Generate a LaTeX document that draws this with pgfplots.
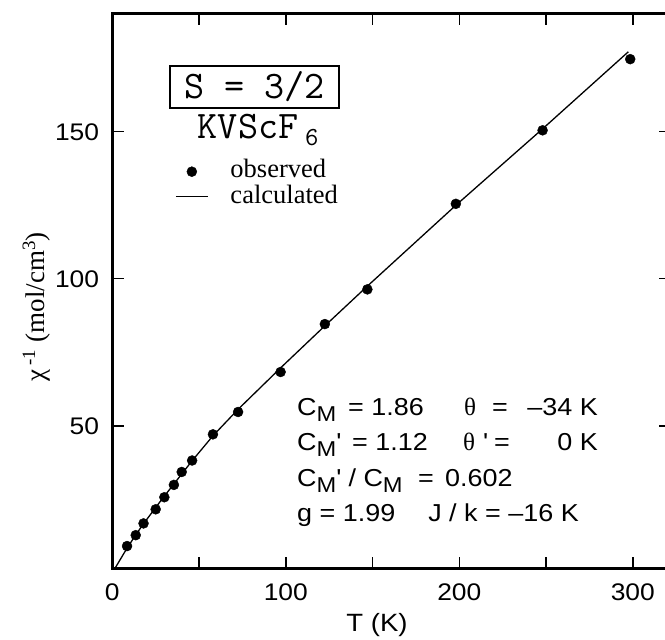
\documentclass[border=0pt]{standalone}
\usepackage{fontspec}
\setmainfont{Liberation Sans}[FakeStretch=1.1]
\newfontfamily\serif{Liberation Serif}
\usepackage{pgfplots}
\pgfplotsset{compat=1.18}
\newcommand\CM{\raisebox{-6bp}{\fontsize{21.5bp}{21.5bp}\selectfont M}}
\newcommand\pf{\fontsize{24.5bp}{24.5bp}\selectfont}
\newcommand\ap{\textquotesingle}
\begin{document}
\begin{tikzpicture}
\useasboundingbox (0,0) rectangle (665bp,640bp);
\begin{axis}[
  scale only axis, width=558.7bp, height=555.4bp,
  at={(112.3bp,71.3bp)}, anchor=south west,
  xmin=0, xmax=322, ymin=1.4, ymax=190.3,
  axis line style={line width=2.6bp},
  tick align=inside,
  major tick length=12bp, minor tick length=12bp,
  tick style={black, line width=1.4bp},
  xtick={0,100,200,300}, minor xtick={50,150,250},
  ytick={50,100,150},
  tick label style={font=\fontsize{24bp}{24bp}\selectfont, /pgf/number format/assume math mode=true},
  xticklabel style={anchor=north, inner sep=0pt, yshift=-14.6bp},
  yticklabel style={anchor=east, inner sep=0pt, xshift=-13bp},
  legend cell align=left,
  legend style={at={(0.1122,0.7368)}, anchor=north west, draw=none, fill=none,
    inner sep=0pt, row sep=0pt, column sep=22bp,
    font=\serif\fontsize{26.5bp}{26.5bp}\selectfont,
    nodes={inner sep=0pt, text height=18bp, text depth=8bp}},
]
\addplot[only marks, mark=*, mark size=5bp, black,
  legend image code/.code={\draw[black, fill=black] (16bp,1bp) circle (5bp);}]
  coordinates {(8.5,9.1)(13.5,12.8)(18,16.8)(25,21.6)(30,25.7)(35.5,29.9)(40,34.3)(46,38.2)(58,47.1)(72.5,54.7)(97,68.3)(122.5,84.6)(147,96.4)(198,125.5)(248,150.5)(298.5,174.7)};
\addlegendentry{observed}
\addplot[black, line width=1.3bp,
  legend image code/.code={\draw[black, line width=1.3bp] (0bp,2.5bp) -- (32bp,2.5bp);}]
  coordinates {(0,0)(8.5,8.4)(13.5,12.9)(18,16.7)(25,22.2)(30,26.1)(35.5,30.2)(40,33.6)(46,38.1)(58,46.6)(72.5,55.6)(97,69.7)(122.5,84)(147,97.5)(198,125)(248,151)(297.4,177.2)};
\addlegendentry{calculated}
\end{axis}
% title box and compound
\node[draw, line width=2bp, minimum width=169bp, minimum height=42bp, inner sep=0pt,
  font=\ttfamily\fontsize{39bp}{39bp}\selectfont] at (254.5bp,553bp) {S = 3/2};
\node[anchor=base west, inner sep=0pt, font=\ttfamily\fontsize{39bp}{39bp}\selectfont]
  at (197.7bp,501bp) {KVScF};
\node[anchor=base west, inner sep=0pt, font=\ttfamily\fontsize{26bp}{26bp}\selectfont]
  at (305bp,494bp) {6};
% parameters
\node[anchor=base west, inner sep=0pt, font=\pf] at (297bp,224bp) {C\CM};
\node[anchor=base west, inner sep=0pt, font=\pf] at (348bp,224bp) {= 1.86};
\node[anchor=base west, inner sep=0pt, font=\serif\fontsize{25bp}{25bp}\selectfont] at (464bp,224bp) {θ};
\node[anchor=base west, inner sep=0pt, font=\pf] at (492bp,224bp) {=};
\node[anchor=base east, inner sep=0pt, font=\pf] at (598bp,224bp) {–34 K};
\node[anchor=base west, inner sep=0pt, font=\pf] at (297bp,189bp) {C\CM\ap};
\node[anchor=base west, inner sep=0pt, font=\pf] at (352bp,189bp) {= 1.12};
\node[anchor=base west, inner sep=0pt, font=\serif\fontsize{25bp}{25bp}\selectfont] at (463bp,189bp) {θ};
\node[anchor=base west, inner sep=0pt, font=\pf] at (483bp,189bp) {\ap};
\node[anchor=base west, inner sep=0pt, font=\pf] at (494bp,189bp) {=};
\node[anchor=base east, inner sep=0pt, font=\pf] at (598bp,189bp) {0 K};
\node[anchor=base west, inner sep=0pt, font=\pf] at (297bp,153bp) {C\CM\ap{} / C\CM};
\node[anchor=base west, inner sep=0pt, font=\pf] at (418bp,153bp) {=};
\node[anchor=base west, inner sep=0pt, font=\pf] at (445bp,153bp) {0.602};
\node[anchor=base west, inner sep=0pt, font=\pf] at (297bp,118bp) {g = 1.99};
\node[anchor=base east, inner sep=0pt, font=\pf] at (579bp,118bp) {J / k = –16 K};
% axis labels
\node[rotate=90, anchor=base, inner sep=0pt, font=\serif\fontsize{27bp}{27bp}\selectfont]
  at (44bp,333bp) {χ\,\textsuperscript{-1} (mol/cm\textsuperscript{3})};
\node[anchor=base, inner sep=0pt, font=\fontsize{25bp}{25bp}\selectfont] at (377bp,9bp) {T (K)};
\end{tikzpicture}
\end{document}
